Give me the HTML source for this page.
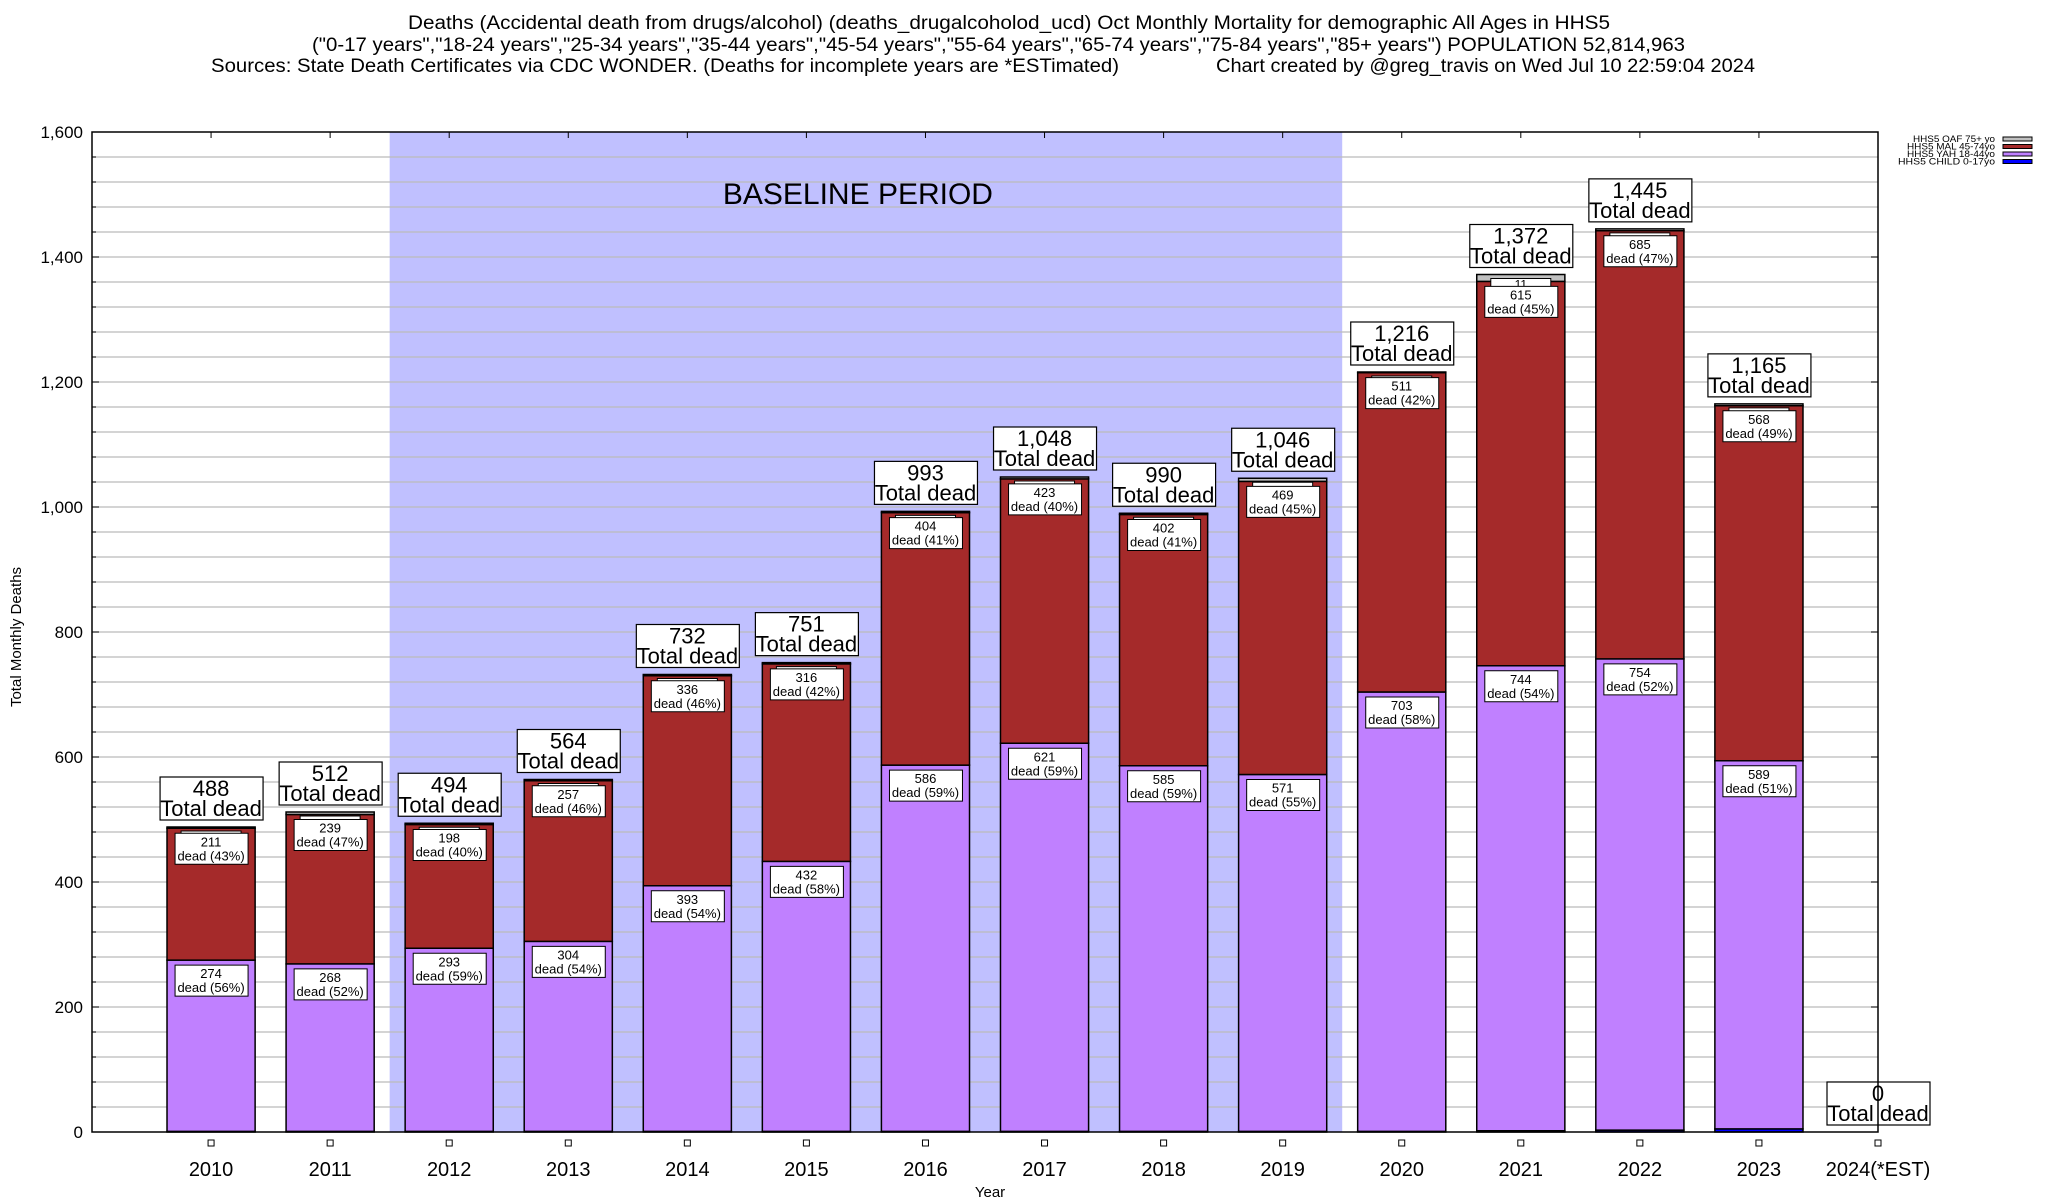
<!DOCTYPE html>
<html><head><meta charset="utf-8"><style>
html,body{margin:0;padding:0;background:#fff;}
svg{display:block;font-family:"Liberation Sans",sans-serif;}
</style></head><body>
<svg id="chart" width="2048" height="1200" viewBox="0 0 2048 1200" xmlns="http://www.w3.org/2000/svg">
<g font-size="19" fill="#000">
<text x="408" y="29" textLength="1202" lengthAdjust="spacingAndGlyphs">Deaths (Accidental death from drugs/alcohol) (deaths_drugalcoholod_ucd) Oct Monthly Mortality for demographic All Ages in HHS5</text>
<text x="312" y="51" textLength="1373" lengthAdjust="spacingAndGlyphs">("0-17 years","18-24 years","25-34 years","35-44 years","45-54 years","55-64 years","65-74 years","75-84 years","85+ years") POPULATION 52,814,963</text>
<text x="211" y="72" textLength="908" lengthAdjust="spacingAndGlyphs">Sources: State Death Certificates via CDC WONDER. (Deaths for incomplete years are *ESTimated)</text>
<text x="1216" y="72" textLength="539" lengthAdjust="spacingAndGlyphs">Chart created by @greg_travis on Wed Jul 10 22:59:04 2024</text>
</g>
<g id="plot"></g>
<text transform="translate(21,637) rotate(-90)" font-size="15" text-anchor="middle">Total Monthly Deaths</text>
<text x="990" y="1197" font-size="15" text-anchor="middle">Year</text>
<g font-size="9.5" text-anchor="end">
<text x="1995" y="142" textLength="82" lengthAdjust="spacingAndGlyphs">HHS5 OAF 75+ yo</text><rect x="2003" y="137" width="29" height="4" fill="#c0c0c0" stroke="#000"/>
<text x="1995" y="149.5" textLength="88" lengthAdjust="spacingAndGlyphs">HHS5 MAL 45-74yo</text><rect x="2003" y="144.5" width="29" height="4" fill="#a52a2a" stroke="#000"/>
<text x="1995" y="157" textLength="88" lengthAdjust="spacingAndGlyphs">HHS5 YAH 18-44yo</text><rect x="2003" y="152" width="29" height="4" fill="#c080ff" stroke="#000"/>
<text x="1995" y="164.5" textLength="97" lengthAdjust="spacingAndGlyphs">HHS5 CHILD 0-17yo</text><rect x="2003" y="159.5" width="29" height="4" fill="#0000ff" stroke="#000"/>
</g>
</svg>
<script>
const years = ["2010","2011","2012","2013","2014","2015","2016","2017","2018","2019","2020","2021","2022","2023","2024(*EST)"];
const totals = [488,512,494,564,732,751,993,1048,990,1046,1216,1372,1445,1165,0];
const child = [1,1,1,1,1,1,1,1,1,1,1,2,3,5,0];
const yah = [274,268,293,304,393,432,586,621,585,571,703,744,754,589,0];
const mal = [211,239,198,257,336,316,404,423,402,469,511,615,685,568,0];
const yTicks = [0,200,400,600,800,1000,1200,1400,1600];
const baseline = [2011.5,2019.5];

const NS="http://www.w3.org/2000/svg";
const L=92,R=1878,T=132,B=1132;
const ymax=1600;
const step=(R-L)/15;
const xi=i=>L+(i+1)*step;
const yv=v=>B-(v/ymax)*(B-T);
const plot=document.getElementById('plot');
function mk(tag,attrs,parent,txt){const e=document.createElementNS(NS,tag);for(const k in attrs)e.setAttribute(k,attrs[k]);if(txt!==undefined)e.textContent=txt;(parent||plot).appendChild(e);return e;}
function fmt(n){return n.toLocaleString('en-US');}

mk('rect',{x:L,y:T,width:R-L,height:B-T,fill:'#fff'});
const bx0=xi(baseline[0]-2010), bx1=xi(baseline[1]-2010);
const band=mk('rect',{x:bx0,y:T,width:bx1-bx0,height:B-T,fill:'#c0c0ff'});


for(let v=40;v<ymax;v+=40){mk('line',{x1:L,x2:R,y1:yv(v),y2:yv(v),stroke:'#bbb','stroke-width':1.2});}
const bt=mk('text',{x:(bx0+bx1)/2-8,y:204,'font-size':30,'text-anchor':'middle'},plot,'BASELINE PERIOD');


yTicks.forEach(v=>{
  mk('line',{x1:L,x2:L+7,y1:yv(v),y2:yv(v),stroke:'#000'});
  mk('line',{x1:R,x2:R-7,y1:yv(v),y2:yv(v),stroke:'#000'});
  const t=mk('text',{x:83,y:yv(v)+6,'font-size':17,'text-anchor':'end'},plot,fmt(v));
  
  
});
for(let v=40;v<ymax;v+=40){mk('line',{x1:L,x2:L+4,y1:yv(v),y2:yv(v),stroke:'#000'});}
const bw=step*0.74;
function segLabel(g,cx,topV,val,pct){
  const y=yv(topV)+5;
  mk('rect',{x:cx-36,y:y,width:73,height:31,fill:'#fff',stroke:'#000','stroke-width':1},g);
  mk('text',{x:cx,y:y+13,'font-size':13,'text-anchor':'middle'},g,String(val));
  mk('text',{x:cx,y:y+27,'font-size':13,'text-anchor':'middle'},g,'dead ('+pct+'%)');
}
years.forEach((yr,i)=>{
  const cx=xi(i);
  const g=mk('g',{});
  
  
  const tot=totals[i];
  const oaf=Math.max(0,tot-child[i]-yah[i]-mal[i]);
  let base=0;
  const segs=[[child[i],'#0000ff'],[yah[i],'#c080ff'],[mal[i],'#a52a2a'],[oaf,'#c0c0c0']];
  segs.forEach(s=>{
    if(s[0]>0){mk('rect',{x:cx-bw/2,y:yv(base+s[0]),width:bw,height:yv(base)-yv(base+s[0]),fill:s[1],stroke:'#000','stroke-width':1.5},g);}
    base+=s[0];
  });
  if(tot>0){
    const oy=yv(tot)+4;
    mk('rect',{x:cx-30,y:oy,width:60,height:12,fill:'#fff',stroke:'#000','stroke-width':1},g);
    if(oaf>=10) mk('text',{x:cx,y:oy+10,'font-size':12,'text-anchor':'middle'},g,String(oaf));
    segLabel(g,cx,child[i]+yah[i]+mal[i],mal[i],Math.round(mal[i]/tot*100));
    segLabel(g,cx,child[i]+yah[i],yah[i],Math.round(yah[i]/tot*100));
  }
  const by=yv(tot)-7;
  mk('rect',{x:cx-51,y:by-43,width:103,height:43,fill:'#fff',stroke:'#000','stroke-width':1.2},g);
  mk('text',{x:cx,y:by-24,'font-size':22,'text-anchor':'middle'},g,fmt(tot));
  mk('text',{x:cx,y:by-4,'font-size':22,'text-anchor':'middle'},g,'Total dead');
  mk('line',{x1:cx,x2:cx,y1:T,y2:T+6,stroke:'#000'});
  mk('rect',{x:cx-3,y:1140,width:6,height:6,fill:'#fff',stroke:'#000'});
  const xl=mk('text',{x:cx,y:1176,'font-size':20,'text-anchor':'middle'},plot,yr);
  
  
});
mk('rect',{x:L,y:T,width:R-L,height:B-T,fill:'none',stroke:'#000','stroke-width':1.5});
</script>
</body></html>
